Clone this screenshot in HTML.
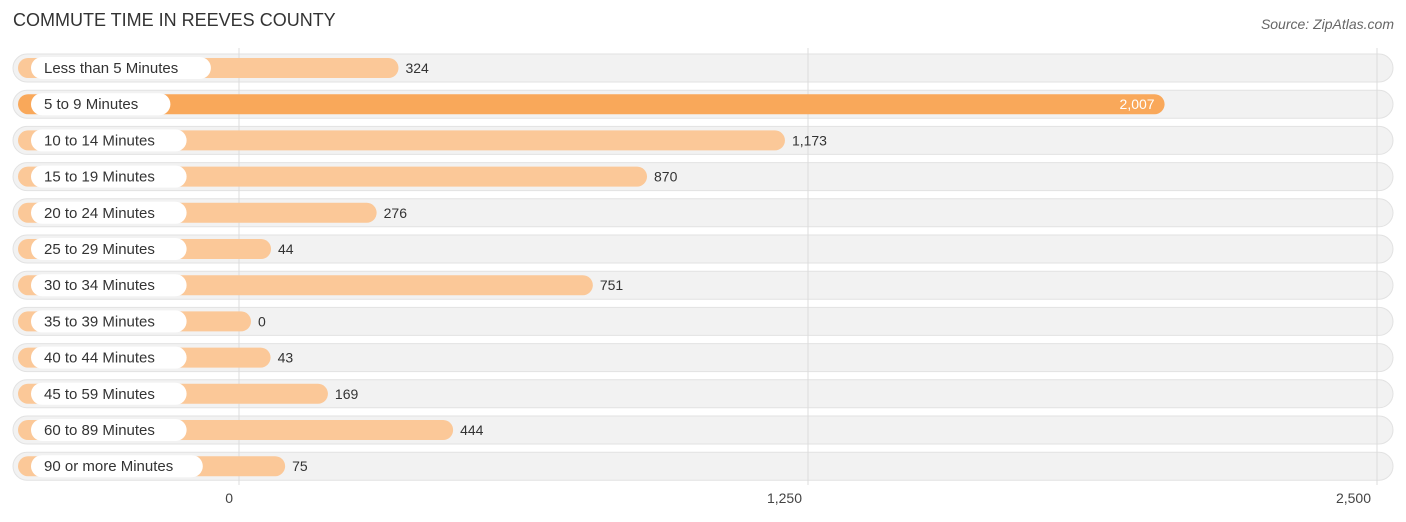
<!DOCTYPE html>
<html><head><meta charset="utf-8"><style>
body{margin:0;width:1406px;height:522px;background:#fff;font-family:"Liberation Sans",sans-serif;position:relative;overflow:hidden}
.t{position:absolute;left:13px;top:10px;font-size:18px;color:#333}
.s{position:absolute;right:12px;top:16px;font-size:14px;color:#666;font-style:italic}
</style></head><body>
<div class="t">COMMUTE TIME IN REEVES COUNTY</div>
<div class="s">Source: ZipAtlas.com</div>
<svg id="c" width="1406" height="522" style="position:absolute;left:0;top:0"></svg>
<script>
const categories=["Less than 5 Minutes","5 to 9 Minutes","10 to 14 Minutes","15 to 19 Minutes","20 to 24 Minutes","25 to 29 Minutes","30 to 34 Minutes","35 to 39 Minutes","40 to 44 Minutes","45 to 59 Minutes","60 to 89 Minutes","90 or more Minutes"];
const values=[324,2007,1173,870,276,44,751,0,43,169,444,75];
const ticks=[0,1250,2500];
const tickLabels=["0","1,250","2,500"];
const NS="http://www.w3.org/2000/svg";
const svg=document.getElementById('c');
const x=v=>239+v*569/1250;
const y=i=>68+i*36.2;
const maxV=Math.max(...values);
function mk(t,a){const e=document.createElementNS(NS,t);for(const k in a)e.setAttribute(k,a[k]);svg.appendChild(e);return e;}
categories.forEach((c,i)=>{
 const cy=y(i);
 const bg=mk('rect',{x:13,y:cy-14,width:1380,height:28,rx:14,fill:'#f2f2f2',stroke:'#e2e2e2','stroke-width':1});
 
 
});
ticks.forEach((t,i)=>{
 const l=mk('line',{x1:x(t),x2:x(t),y1:48,y2:485,stroke:'#dcdcdc','stroke-width':1});
 
 
});
categories.forEach((c,i)=>{
 const cy=y(i);
 const hi=values[i]===maxV;
 const b=mk('rect',{x:18,y:cy-10,width:x(values[i])+12-18,height:20,rx:10,fill:hi?'#f9a85a':'#fbc898'});
 
 
 const tw=c.length*8.1+26;
 const lp=mk('rect',{x:31,y:cy-11,width:tw,height:22,rx:11,fill:'#fff'});
 
 
 const lt=mk('text',{x:44,y:cy+5,'font-size':15,fill:'#333','font-family':'Liberation Sans, sans-serif'});
 lt.textContent=c;
 
 
 const lab=values[i].toLocaleString('en-US');
 let vt;
 if(hi){vt=mk('text',{x:x(values[i])+12-10,y:cy+5,'font-size':14,fill:'#fff','text-anchor':'end','font-family':'Liberation Sans, sans-serif'});}
 else{vt=mk('text',{x:x(values[i])+12+7,y:cy+5,'font-size':14,fill:'#333','font-family':'Liberation Sans, sans-serif'});}
 vt.textContent=lab;
 
 
});
ticks.forEach((t,i)=>{
 const tt=mk('text',{x:x(t)-6,y:503,'font-size':14,fill:'#444','text-anchor':'end','font-family':'Liberation Sans, sans-serif'});
 tt.textContent=tickLabels[i];
 
 
});
</script>
</body></html>
